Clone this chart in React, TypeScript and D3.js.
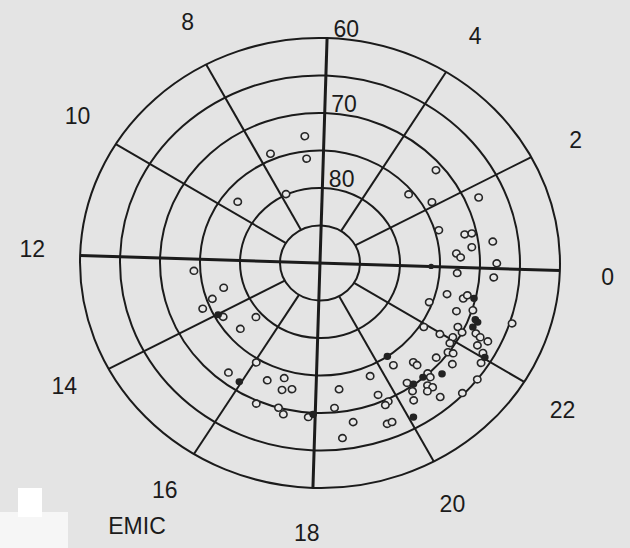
import * as React from 'react'
import * as d3 from 'd3'

// EMIC wave events: [MLT hours, magnetic latitude deg]
const openEvents: [number, number][] = [
  [6.54, 73.0], [7.65, 74.2], [6.57, 76.0], [7.77, 79.9], [9.56, 76.9],
  [2.82, 70.9], [2.76, 75.6], [2.13, 73.8], [1.71, 68.3], [1.22, 74.5],
  [0.92, 71.5], [0.91, 70.6], [0.63, 68.2], [0.55, 70.9], [0.41, 72.9],
  [0.29, 72.4], [0.12, 67.9], [23.83, 72.8], [23.79, 68.2], [23.15, 73.6],
  [23.14, 71.5], [23.25, 71.1], [22.73, 75.4], [22.75, 71.8], [22.91, 69.9],
  [22.89, 64.7], [21.9, 74.5], [22.37, 70.8], [22.29, 70.0], [21.97, 72.3],
  [22.07, 70.7], [22.41, 68.4], [22.37, 67.7], [22.36, 66.6], [22.18, 67.5],
  [21.9, 70.6], [21.68, 70.1], [21.73, 69.5], [21.39, 70.8], [21.51, 68.7],
  [22.09, 66.4], [21.89, 65.9], [20.88, 72.4], [20.9, 71.8], [20.38, 73.6],
  [20.95, 70.1], [20.93, 69.5], [20.4, 70.7], [20.75, 68.9], [20.81, 68.3],
  [20.66, 68.3], [20.39, 69.4], [21.57, 65.0], [21.17, 65.2], [20.79, 66.7],
  [20.29, 68.3], [19.62, 73.7], [19.61, 71.0], [19.77, 69.7], [19.67, 69.4],
  [18.85, 68.4], [19.54, 67.0], [19.65, 67.0], [18.57, 66.5], [18.65, 73.0],
  [18.47, 70.6], [17.84, 69.4], [12.38, 74.2], [13.15, 77.5], [13.43, 75.7],
  [13.63, 74.1], [14.17, 75.9], [14.92, 79.2], [14.88, 76.7], [16.05, 74.5],
  [15.58, 71.4], [16.59, 73.0], [17.03, 74.0], [17.07, 72.4], [17.33, 72.8],
  [16.58, 69.6], [17.11, 70.0], [17.26, 69.3],
]

const filledEvents: [number, number][] = [
  [0.0, 76.1], [23.21, 70.2], [22.71, 69.2], [22.67, 68.8], [22.52, 69.1],
  [22.03, 65.9], [20.39, 75.0], [21.18, 68.8], [20.8, 70.1], [20.51, 70.1],
  [20.09, 66.4], [17.95, 69.8], [14.02, 75.5], [15.95, 71.2],
]

const ringLats = [85, 80, 75, 70, 65, 60]
const ringLabels = [60, 70, 80]
const spokeHours = [2, 4, 8, 10, 14, 16, 20, 22]
const axisHours = [0, 6]
const hourLabels = [0, 2, 4, 8, 10, 12, 14, 16, 18, 20, 22]

const W = 630
const H = 548
const cx = 320
const cy = 263
const R = 240
const squash = 0.9375 // the scanned figure is slightly flattened
const tilt = 1.8 // and slightly rotated
const labelTilt = 2.8 // hour labels sit a little further clockwise

const ink = '#1b1b1b'
const font = '"Liberation Sans", Arial, sans-serif'

export default function App() {
  const r = d3.scaleLinear().domain([90, 60]).range([0, R])
  const a = d3.scaleLinear().domain([0, 24]).range([0, 2 * Math.PI])

  const polar = (h: number, rad: number): [number, number] => [
    rad * Math.cos(a(h)),
    -rad * Math.sin(a(h)),
  ]

  // local (group) coords -> screen
  const toScreen = ([x, y]: [number, number], deg = tilt): [number, number] => {
    const t = (deg * Math.PI) / 180
    const ys = y * squash
    return [cx + x * Math.cos(t) - ys * Math.sin(t), cy + x * Math.sin(t) + ys * Math.cos(t)]
  }

  const lineProps = { stroke: ink, fill: 'none', vectorEffect: 'non-scaling-stroke' as const }
  const textProps = {
    textAnchor: 'middle' as const,
    dominantBaseline: 'central' as const,
    fontFamily: font,
    fontSize: 23,
    fill: ink,
  }

  return (
    <svg
      width={W}
      height={H}
      style={{ position: 'absolute', left: 0, top: 0, background: '#e4e4e4' }}
    >
      <rect x={0} y={0} width={W} height={H} fill="#e4e4e4" />
      <rect x={0} y={512} width={68} height={36} fill="#f6f6f6" />
      <rect x={18} y={488} width={24} height={29} fill="#ffffff" />

      <g transform={`translate(${cx},${cy}) rotate(${tilt}) scale(1,${squash})`}>
        {ringLats.map((lat) => (
          <circle key={lat} cx={0} cy={0} r={r(lat)} {...lineProps} strokeWidth={2} />
        ))}
        {spokeHours.map((h) => {
          const [x1, y1] = polar(h, r(85))
          const [x2, y2] = polar(h, r(60))
          return <line key={h} x1={x1} y1={y1} x2={x2} y2={y2} {...lineProps} strokeWidth={2} />
        })}
        {axisHours.map((h) => {
          const [x1, y1] = polar(h, r(60))
          const [x2, y2] = polar(h + 12, r(60))
          return <line key={h} x1={x1} y1={y1} x2={x2} y2={y2} {...lineProps} strokeWidth={3} />
        })}
        {openEvents.map(([h, lat], i) => {
          const [x, y] = polar(h, r(lat))
          return (
            <circle
              key={'o' + i}
              cx={x}
              cy={y}
              r={3.7}
              fill="#e8e8e8"
              stroke="#262626"
              strokeWidth={1.6}
              vectorEffect="non-scaling-stroke"
            />
          )
        })}
        {filledEvents.map(([h, lat], i) => {
          const [x, y] = polar(h, r(lat))
          return <circle key={'f' + i} cx={x} cy={y} r={i === 0 ? 2.8 : 3.8} fill="#222" />
        })}
      </g>

      {ringLabels.map((lat) => {
        const [x, y] = toScreen([19, -r(lat) - 10])
        return (
          <text key={lat} x={x} y={y} {...textProps}>
            {lat}
          </text>
        )
      })}

      {hourLabels.map((h) => {
        const [x, y] = toScreen(polar(h, R * 1.2), labelTilt)
        return (
          <text key={h} x={x} y={y} {...textProps}>
            {h}
          </text>
        )
      })}

      <text x={137} y={526} {...textProps}>
        EMIC
      </text>
    </svg>
  )
}
